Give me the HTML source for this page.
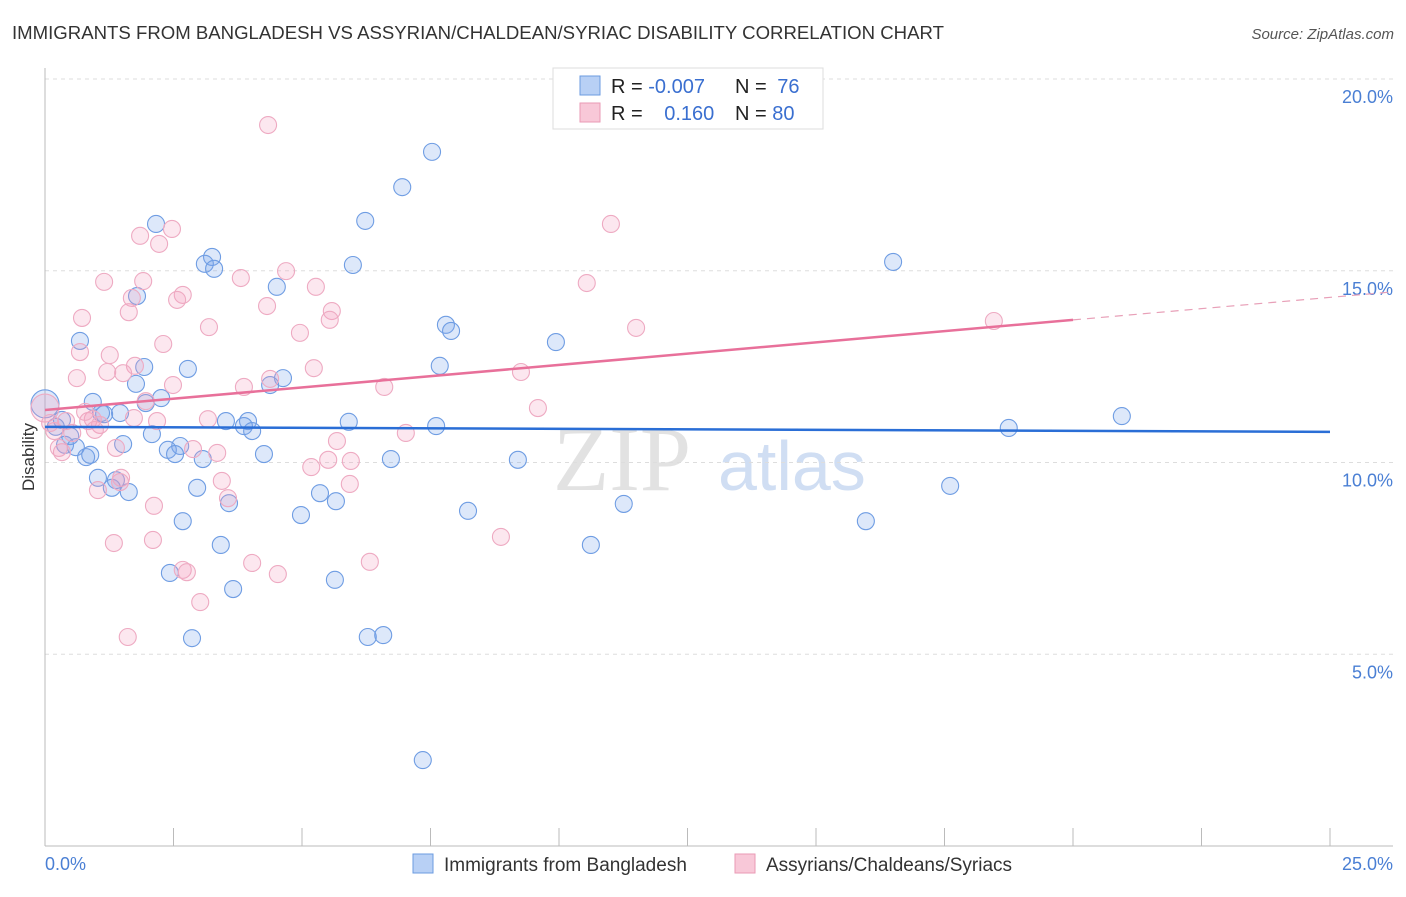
<!DOCTYPE html>
<html><head><meta charset="utf-8"><style>
body{margin:0;background:#fff;font-family:"Liberation Sans",sans-serif}
</style></head><body>
<svg id="chart" width="1406" height="892" viewBox="0 0 1406 892" xmlns="http://www.w3.org/2000/svg" font-family="Liberation Sans, sans-serif">
<text x="12" y="39" font-size="18.6" fill="#333">IMMIGRANTS FROM BANGLADESH VS ASSYRIAN/CHALDEAN/SYRIAC DISABILITY CORRELATION CHART</text>
<text x="1394" y="39" font-size="15" fill="#555" text-anchor="end" font-style="italic">Source: ZipAtlas.com</text>
<g>
<text x="553" y="490" font-size="92" font-family="Liberation Serif, serif" fill="#e2e2e2">ZIP</text>
<text x="718" y="490" font-size="70" fill="#d0def3">atlas</text>
</g>
<g id="grid"></g>
<g id="axes"></g>
<g id="pts"></g>
<g id="trends"></g>
<text transform="translate(34,457) rotate(-90)" font-size="17" fill="#333" text-anchor="middle">Disability</text>
<g>
<rect x="553" y="68" width="270" height="61" fill="#fff" stroke="#ddd"/>
<rect x="580" y="76" width="20" height="19" fill="#b8d0f5" stroke="#6b9be0"/>
<rect x="580" y="103" width="20" height="19" fill="#f8c8d8" stroke="#ea9ab5"/>
<text x="611" y="93" font-size="20" fill="#222">R = <tspan fill="#3a6fd0">-0.007</tspan></text>
<text x="735" y="93" font-size="20" fill="#222">N = <tspan fill="#3a6fd0" dx="5">76</tspan></text>
<text x="611" y="120" font-size="20" fill="#222">R = <tspan fill="#3a6fd0" dx="16">0.160</tspan></text>
<text x="735" y="120" font-size="20" fill="#222">N = <tspan fill="#3a6fd0">80</tspan></text>
</g>
<g>
<rect x="413" y="854" width="20" height="19" fill="#b8d0f5" stroke="#6b9be0"/>
<text x="444" y="871" font-size="19" fill="#333">Immigrants from Bangladesh</text>
<rect x="735" y="854" width="20" height="19" fill="#f8c8d8" stroke="#ea9ab5"/>
<text x="766" y="871" font-size="19" fill="#333">Assyrians/Chaldeans/Syriacs</text>
</g>
</svg>
<script>
const blueX=[0,7.53,6.95,6.23,2.16,3.25,3.11,3.29,5.99,16.50,4.51,1.79,7.80,7.90,0.68,9.94,1.93,2.78,7.68,4.63,4.38,1.77,2.26,0.93,1.96,1.46,1.15,1.09,20.95,5.91,7.61,18.75,3.95,3.52,3.87,4.03,0.33,0.21,0.49,2.08,1.52,2.63,2.39,2.53,0.39,0.60,0.80,0.88,3.07,4.26,6.73,9.20,1.03,1.38,1.30,1.63,2.96,3.58,5.35,5.66,8.23,11.26,17.61,2.68,4.98,15.97,3.42,10.62,2.43,3.66,5.64,2.86,6.28,6.58,7.35];
const blueY=[11.53,18.10,17.18,16.30,16.22,15.36,15.18,15.05,15.15,15.23,14.58,14.34,13.59,13.43,13.17,13.14,12.49,12.44,12.52,12.20,12.02,12.05,11.68,11.58,11.55,11.29,11.26,11.29,11.21,11.06,10.95,10.90,11.08,11.08,10.95,10.82,11.11,10.93,10.69,10.74,10.48,10.43,10.33,10.22,10.46,10.40,10.14,10.20,10.09,10.22,10.09,10.07,9.60,9.54,9.34,9.23,9.34,8.94,9.20,8.99,8.74,8.92,9.39,8.47,8.63,8.47,7.85,7.85,7.12,6.70,6.94,5.42,5.45,5.50,2.24];
const pinkX=[0,4.34,11.01,2.47,1.85,2.22,4.69,1.15,3.81,1.91,5.27,2.68,1.69,2.57,1.63,4.32,5.58,5.54,0.72,3.19,11.50,10.54,18.46,4.96,0.68,2.30,1.26,1.75,1.21,1.52,5.23,0.62,2.49,3.87,6.60,4.38,9.26,1.96,9.59,0.93,0.84,1.07,3.17,2.18,1.73,0.18,0.53,0.97,7.02,5.68,1.38,2.88,3.35,0.33,5.51,5.95,5.18,3.44,1.48,1.03,1.46,3.56,5.93,2.12,2.10,1.34,8.87,4.03,6.32,2.68,2.76,4.53,3.02,1.61,0.10,0.27,0.78,0.41];
const pinkY=[11.42,18.80,16.22,16.09,15.91,15.70,14.99,14.71,14.81,14.73,14.58,14.37,14.29,14.24,13.92,14.08,13.95,13.72,13.77,13.53,13.51,14.68,13.69,13.38,12.88,13.09,12.80,12.52,12.36,12.33,12.46,12.20,12.02,11.97,11.97,12.18,12.36,11.60,11.42,11.13,11.08,10.98,11.13,11.08,11.16,10.82,10.77,10.85,10.77,10.56,10.38,10.35,10.25,10.27,10.07,10.04,9.88,9.52,9.60,9.28,9.49,9.07,9.44,8.87,7.98,7.90,8.06,7.38,7.41,7.20,7.14,7.09,6.36,5.45,11.03,10.38,11.32,11.08];
const blueTrend=[10.93,10.80];
const pinkTrend=[11.37,14.45];
const yTicks=[5,10,15,20];
const xTickLabels=["0.0%","25.0%"];
const NS="http://www.w3.org/2000/svg";
const X0=45,X1=1330,Y0=846,YT=79;
const sx=v=>X0+(X1-X0)*v/25, sy=v=>Y0-(Y0-YT)*v/20;
function mk(parent,tag,attrs){const e=document.createElementNS(NS,tag);for(const k in attrs)e.setAttribute(k,attrs[k]);document.getElementById(parent).appendChild(e);return e;}
yTicks.forEach(t=>{
 let l=mk('grid','line',{x1:X0,x2:1393,y1:sy(t),y2:sy(t),stroke:'#ddd','stroke-dasharray':'4,4'});
 
 
 let tx=mk('grid','text',{x:1393,y:sy(t)+24,'font-size':18,fill:'#4a7fd4','text-anchor':'end'});
 tx.textContent=t.toFixed(1)+'%';
 
 
});
let ax=mk('axes','line',{x1:X0,x2:X0,y1:68,y2:Y0,stroke:'#bbb'});


let bx=mk('axes','line',{x1:X0,x2:1393,y1:Y0,y2:Y0,stroke:'#bbb'});


for(let i=0;i<=10;i++){let t=mk('axes','line',{x1:sx(i*2.5),x2:sx(i*2.5),y1:Y0,y2:828,stroke:'#bbb'});
 
 }
[[xTickLabels[0],X0,'start'],[xTickLabels[1],1393,'end']].forEach(a=>{let t=mk('axes','text',{x:a[1],y:870,'font-size':18,fill:'#4a7fd4','text-anchor':a[2]});t.textContent=a[0];
 
 });
function pts(xs,ys,fill,stroke,name){xs.forEach((x,i)=>{let c=mk('pts','circle',{cx:sx(x),cy:sy(ys[i]),r:i===0?14:8.5,fill:fill,stroke:stroke,'stroke-width':1.1});
 
 });}
pts(blueX,blueY,'rgba(120,165,235,0.25)','#6f9de3','point-bangladesh');
pts(pinkX,pinkY,'rgba(245,160,190,0.25)','#eeaac2','point-assyrian');
let bt=mk('trends','line',{x1:sx(0),y1:sy(blueTrend[0]),x2:sx(25),y2:sy(blueTrend[1]),stroke:'#2a6ed6','stroke-width':2.5});


const pAt=v=>pinkTrend[0]+(pinkTrend[1]-pinkTrend[0])*v/26.23;
let pt=mk('trends','line',{x1:sx(0),y1:sy(pAt(0)),x2:sx(20),y2:sy(pAt(20)),stroke:'#e8709a','stroke-width':2.5});


let pd=mk('trends','line',{x1:sx(20),y1:sy(pAt(20)),x2:sx(26.23),y2:sy(pAt(26.23)),stroke:'#e8a0b8','stroke-width':1.2,'stroke-dasharray':'8,6'});


</script>
</body></html>
